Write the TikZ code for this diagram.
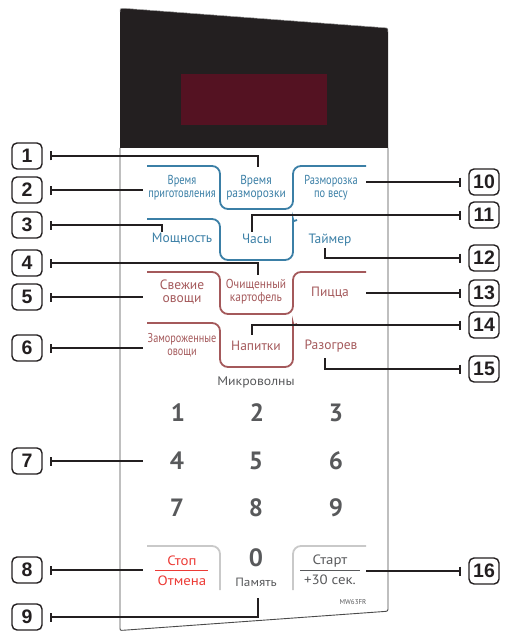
\documentclass[tikz,border=0pt]{standalone}
\usepackage{fontspec}
\setmainfont{PT Sans}
\newfontfamily\condA[FakeStretch=0.8]{PT Sans}
\newfontfamily\condB[FakeStretch=0.88]{PT Sans}
\newfontfamily\widef[FakeStretch=1.1]{PT Sans}
\newfontfamily\calf{Liberation Sans}
\usetikzlibrary{arrows.meta}
\definecolor{dark}{HTML}{231F20}
\definecolor{disp}{HTML}{541222}
\definecolor{bl}{HTML}{3B7FA6}
\definecolor{rd}{HTML}{A4595B}
\definecolor{stopred}{HTML}{EC3A35}
\definecolor{lgray}{HTML}{C9C9C9}
\definecolor{dgray}{HTML}{58595B}
\definecolor{edge}{HTML}{4A4A4A}
\tikzset{
  callbox/.style={draw=dark, line width=1.4pt, rounded corners=5pt, minimum width=30pt, minimum height=26pt, inner sep=0pt, font=\calf\bfseries\fontsize{19.5}{19.5}\selectfont, text=dark},
  callout/.style={draw=dark, line width=1.9pt, {Bar[width=9pt]}-},
  bline/.style={draw=bl, line width=1.8pt, rounded corners=8pt},
  rline/.style={draw=rd, line width=1.8pt, rounded corners=8pt},
  gline/.style={draw=lgray, line width=1.8pt, rounded corners=8pt},
  twoA/.style={font=\condA\fontsize{13}{13}\selectfont, align=center, inner sep=0pt},
  twoB/.style={font=\condB\fontsize{13}{13}\selectfont, align=center, inner sep=0pt},
  onel/.style={font=\fontsize{13.5}{14}\selectfont, inner sep=0pt},
  widel/.style={font=\widef\fontsize{13.5}{14}\selectfont, inner sep=0pt},
  digit/.style={font=\bfseries\fontsize{25}{25}\selectfont, text=dgray, inner sep=0pt},
}
\begin{document}
\begin{tikzpicture}[x=1pt,y=-1pt]
\useasboundingbox (0,0) rectangle (505,631);
% panel
\fill[dark] (120,148) -- (120,12) .. controls (120,8.5) .. (124,8.3) -- (384,27.7) .. controls (388,28) .. (388,32) -- (388,148) -- cycle;
\draw[gray!70, line width=0.5pt] (120,12) .. controls (120,8.5) .. (124,8.3) -- (384,27.7) .. controls (388,28) .. (388,32);
\fill[disp] (181,74) rectangle (327,125);
\draw[edge, line width=0.9pt] (120,148) -- (120,627) .. controls (120,630.5) .. (124,630.2) -- (384,611.5) .. controls (388,611.2) .. (388,607) -- (388,148);
% buttons
\draw[bline] (147,166) -- (220,166) -- (220,209) -- (293,209) -- (293,166) -- (366,166);
\draw[bline] (147,219) -- (220,219) -- (220,260) -- (293,260) -- (293,227) .. controls (293,221.5) .. (297,220);
\draw[rline] (147,272) -- (220,272) -- (220,314) -- (293,314) -- (293,272) -- (366,272);
\draw[rline] (147,323) -- (220,323) -- (220,367) -- (293,367) -- (293,331) .. controls (293,325.5) .. (297,324);
\draw[gline] (147,546) -- (220,546) -- (220,590);
\draw[gline] (293,590) -- (293,546) -- (366,546);
% labels
\node[twoA, text=bl] (t1) at (182,188) {Время\\приготовления};
\node[twoB, text=bl] (t2) at (256,188) {Время\\разморозки};
\node[twoA, text=bl] (t3) at (331,188) {Разморозка\\по весу};
\node[onel, text=bl] (t4) at (182,239) {Мощность};
\node[onel, text=bl] (t5) at (257,239) {Часы};
\node[onel, text=bl] (t6) at (330,240) {Таймер};
\node[onel, text=rd, align=center, font=\fontsize{13.5}{13}\selectfont] (t7) at (182,292) {Свежие\\овощи};
\node[twoB, text=rd] (t8) at (256,292) {Очищенный\\картофель};
\node[onel, text=rd] (t9) at (330,293) {Пицца};
\node[twoA, text=rd, font=\condA\fontsize{12.8}{13}\selectfont] (t10) at (182,345) {Замороженные\\овощи};
\node[onel, text=rd] (t11) at (256,346) {Напитки};
\node[onel, text=rd] (t12) at (331,346) {Разогрев};
\node[font=\widef\fontsize{12.5}{12.5}\selectfont, text=dgray, inner sep=0pt] (mw) at (256,382) {Микроволны};
% digits
\node[digit] (k1) at (178,413) {1};
\node[digit] (k2) at (257,413) {2};
\node[digit] (k3) at (336,413) {3};
\node[digit] (k4) at (177,461) {4};
\node[digit] (k5) at (256,461) {5};
\node[digit] (k6) at (336,461) {6};
\node[digit] (k7) at (177,508) {7};
\node[digit] (k8) at (256,508) {8};
\node[digit] (k9) at (336,508) {9};
\node[digit] (k0) at (256,558) {0};
\node[font=\widef\fontsize{12}{12}\selectfont, text=dgray, inner sep=0pt] (mem) at (256,582) {Память};
% stop / start
\node[widel, text=stopred] (stop) at (182,561) {Стоп};
\node[widel, text=stopred] (cancel) at (182,581) {Отмена};
\draw[stopred, line width=0.8pt] (155,570.5) -- (208,570.5);
\node[widel, text=dgray] (start) at (330,561) {Старт};
\node[widel, text=dgray] (plus) at (330,580) {+30 сек.};
\draw[dgray, line width=0.8pt] (300,570.5) -- (360,570.5);
\node[font=\fontsize{7}{7}\selectfont, text=dgray, inner sep=0pt] (model) at (353,602) {MW63FR};
% callout boxes
\foreach \n/\y in {1/156,2/190,3/225,4/263,5/297,6/348,7/461,8/570,9/617}
  \node[callbox] (c\n) at (27,\y) {\n};
\foreach \n/\y in {10/182,11/215,12/258,13/293,14/325,15/369,16/571}
  \node[callbox] (c\n) at (484,\y) {\n};
% connector ends
\coordinate (e1) at (258,167);
\coordinate (e2) at (143,190);
\coordinate (e3) at (162,232);
\coordinate (e4) at (258,275);
\coordinate (e5) at (143,297);
\coordinate (e6) at (143,348);
\coordinate (e7) at (143,461);
\coordinate (e8) at (143,570);
\coordinate (e9) at (258,598);
\coordinate (e10) at (366,182);
\coordinate (e11) at (252,232);
\coordinate (e12) at (325,248);
\coordinate (e13) at (366,293);
\coordinate (e14) at (252,335);
\coordinate (e15) at (325,358);
\coordinate (e16) at (366,571);
% connectors
\foreach \n in {1,3,4,9}
  \draw[callout] ([xshift=7pt]c\n.east) -| (e\n);
\foreach \n in {2,5,6,7,8}
  \draw[callout] ([xshift=7pt]c\n.east) -- (e\n);
\foreach \n in {11,12,14,15}
  \draw[callout] ([xshift=-7pt]c\n.west) -| (e\n);
\foreach \n in {10,13,16}
  \draw[callout] ([xshift=-7pt]c\n.west) -- (e\n);
\end{tikzpicture}
\end{document}
